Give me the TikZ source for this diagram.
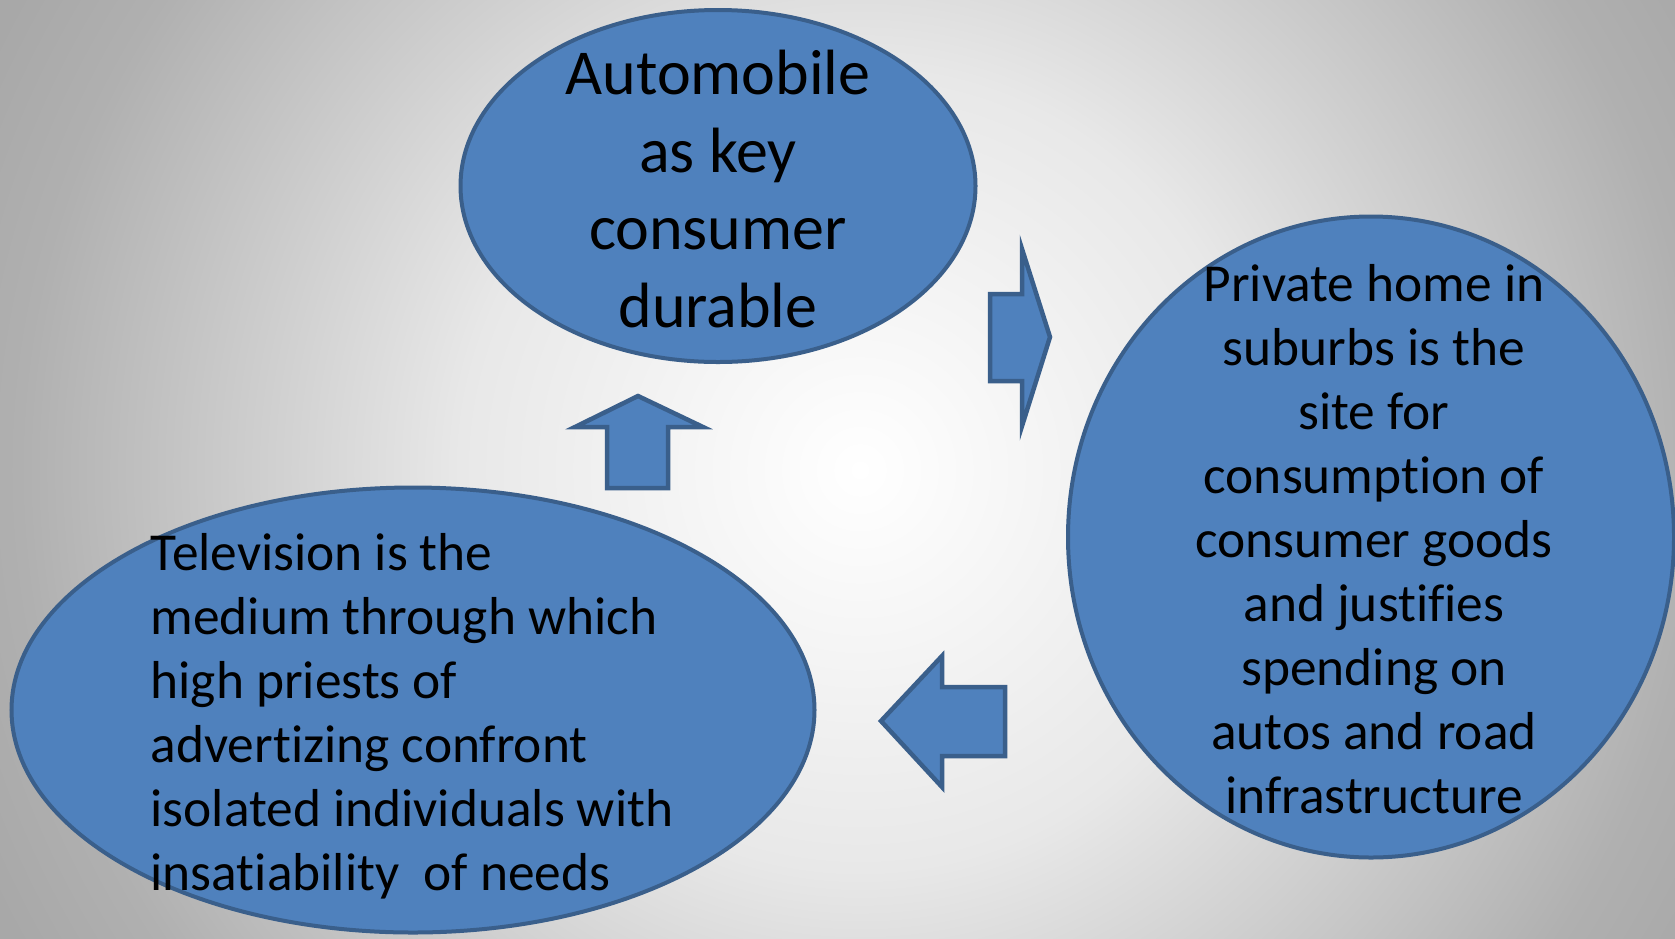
\documentclass[tikz,border=0pt]{standalone}
\usepackage{fontspec}
\setmainfont{Carlito}[Ligatures=NoCommon]
\usetikzlibrary{positioning,shapes.geometric}
\definecolor{ovalfill}{HTML}{4F81BD}
\definecolor{ovalline}{HTML}{3A5F8B}
\pgfdeclareradialshading{bgshade}{\pgfpoint{0bp}{0bp}}{%
  color(0bp)=(white); color(10.4bp)=(black!9);
  color(21.9bp)=(black!31); color(25bp)=(black!34); color(50bp)=(black!36)}
\tikzset{
  oval/.style     = {ellipse, draw=ovalline, fill=ovalfill,
                     line width=4pt, inner sep=0pt},
  txt/.style      = {inner sep=0pt, text=black},
  bigtxt/.style   = {txt, align=center, font=\fontsize{64}{77.5}\selectfont},
  smalltxt/.style = {txt, font=\fontsize{53.4}{64}\selectfont},
  blockarr/.style = {draw=ovalline, fill=ovalfill, line width=4.5pt,
                     line join=miter}
}

\begin{document}
\begin{tikzpicture}[x=1pt,y=-1pt]
  \useasboundingbox (0,0) rectangle (1675,938);
  \begin{scope}
    \clip (0,0) rectangle (1675,938);
    \shade[shading=bgshade] (-100,-490) rectangle (1820,1430);
  \end{scope}
  % ovals
  \node[oval,minimum width=515pt,minimum height=352pt] (auto) at (718,186){};
  \node[oval,minimum width=606pt,minimum height=641pt] (home) at (1371,537){};
  \node[oval,minimum width=803pt,minimum height=445pt] (tv) at (413,710){};
  % texts
  \node[bigtxt] (autotxt) at ([yshift=-3pt]auto.center)
    {Automobile\\as key\\consumer\\durable};
  \node[smalltxt,align=center] (hometxt) at ([xshift=3pt,yshift=-2.5pt]home.center)
    {Private home in\\suburbs is the\\site for\\consumption of\\consumer goods\\and justifies\\spending on\\autos and road\\infrastructure};
  \node[smalltxt,align=left,anchor=west] (tvtxt) at ([xshift=141pt,yshift=-6pt]tv.west)
    {Television is the\\medium through which\\high priests of\\advertizing confront\\isolated individuals with\\insatiability~ of needs};
  % block arrows
  \draw[blockarr] (990,294) -- (1022,294) -- (1022,249) -- (1050,337)
    -- (1022,426) -- (1022,381) -- (990,381) -- cycle;
  \draw[blockarr] (1005,687) -- (942,687) -- (942,656) -- (881,721)
    -- (942,787) -- (942,756) -- (1005,756) -- cycle;
  \draw[blockarr] (607,488) -- (607,427) -- (575,427) -- (638,396)
    -- (703,427) -- (668,427) -- (668,488) -- cycle;
\end{tikzpicture}
\end{document}
